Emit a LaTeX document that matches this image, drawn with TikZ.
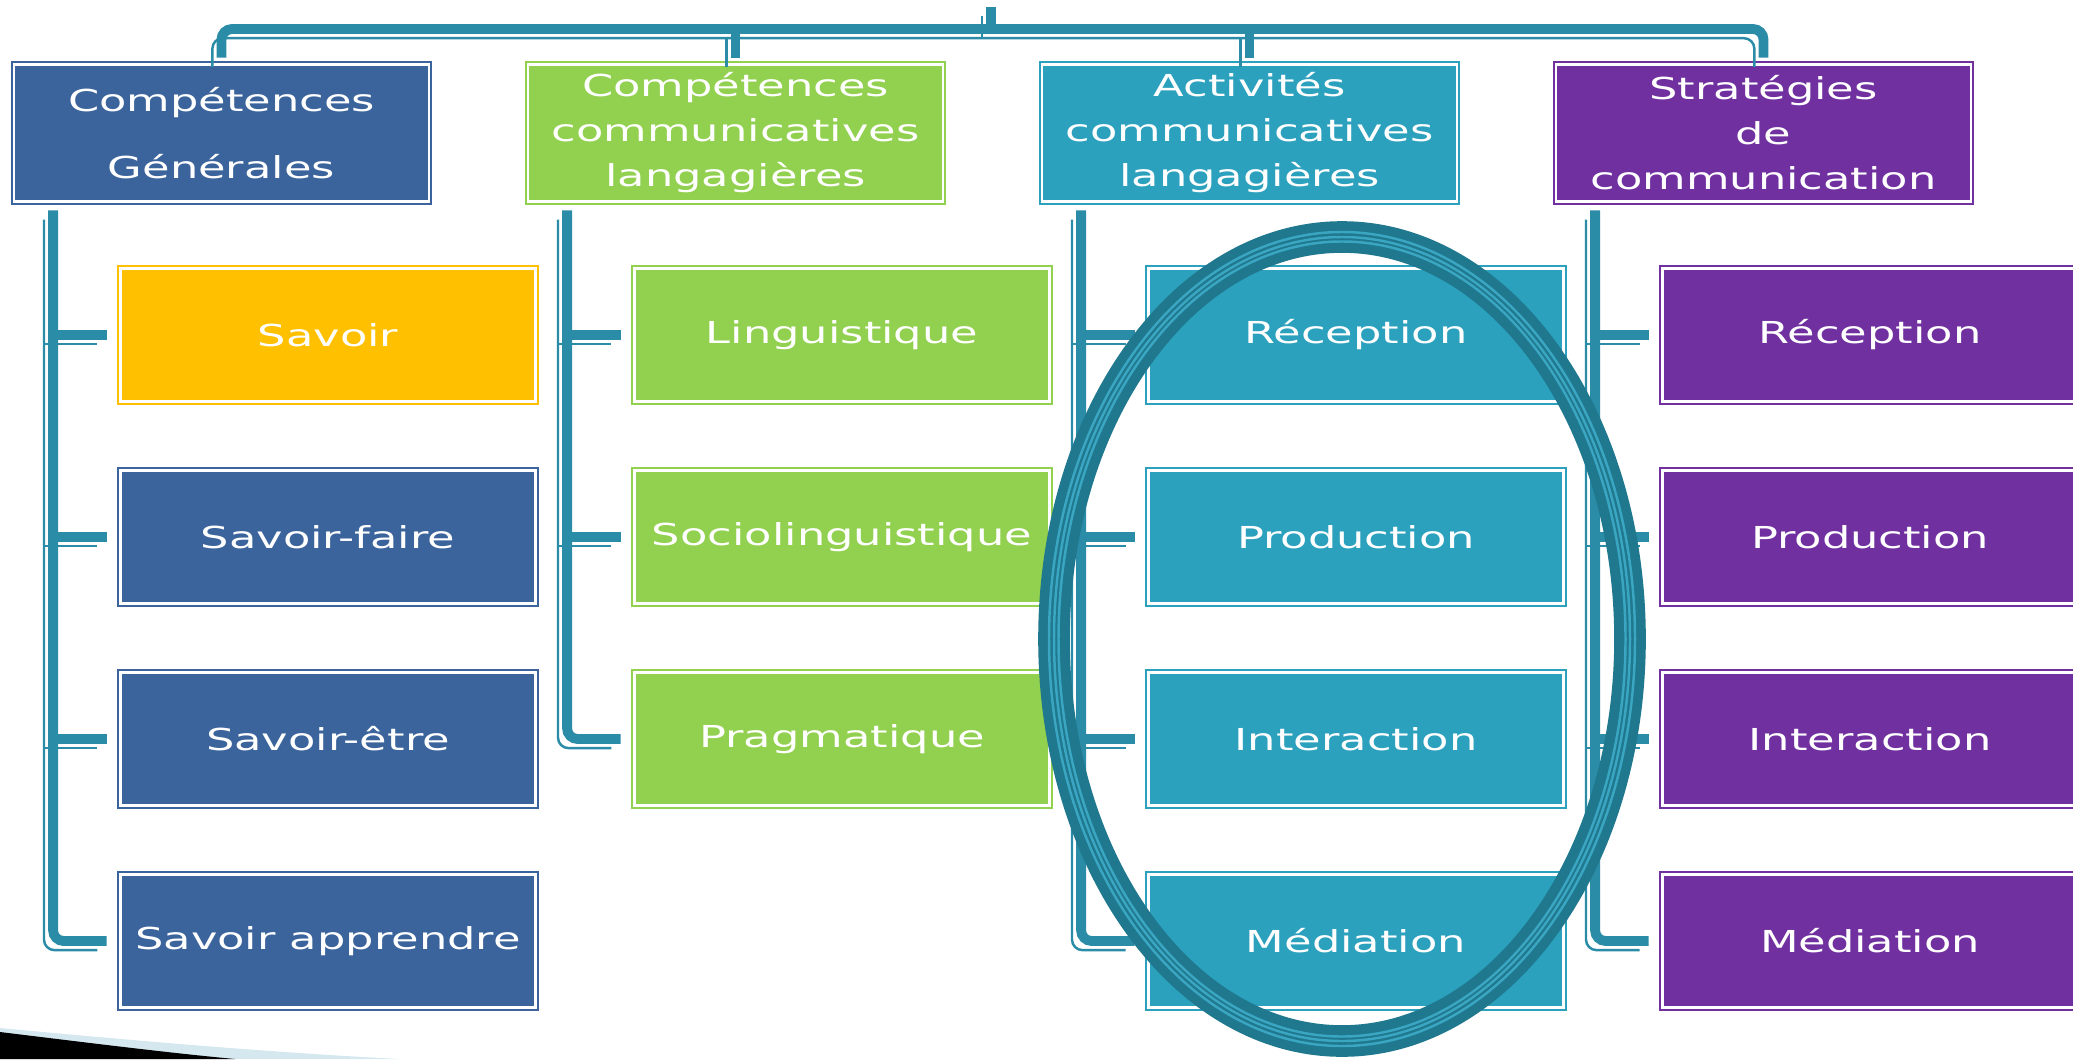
\documentclass[tikz,border=0pt]{standalone}
\usepackage{fontspec}
\setmainfont{DejaVu Sans}[FakeStretch=1.48]
\definecolor{bleu}{HTML}{3B649C}
\definecolor{jaune}{HTML}{FFC000}
\definecolor{vert}{HTML}{92D050}
\definecolor{turquoise}{HTML}{2CA1BE}
\definecolor{violet}{HTML}{7030A0}
\definecolor{couleurlien}{HTML}{2A8CA6}
\definecolor{cercle}{HTML}{1F788E}
\definecolor{cerclepale}{HTML}{3AA6C2}
\definecolor{bleupale}{HTML}{D5E8F0}

\begin{document}
\begin{tikzpicture}[
        boite/.style = {draw=#1, fill=#1, double=white, double distance=0.8pt, line width=0.5pt,
            text=white, minimum width=4.15cm, minimum height=1.33cm, inner sep=0pt, align=center,
            font=\fontsize{8.6}{12.8}\selectfont},
        titre/.style = {boite=#1, minimum height=1.37cm},
        lien/.style = {draw=couleurlien, line width=2.8pt, rounded corners=3pt,
            postaction={draw=couleurlien, line width=0.7pt, transform canvas={xshift=-2.6pt, yshift=-2.6pt}}}
    ]
        \useasboundingbox (0, 0) rectangle (20.73, -10.59);

        % titres
        \node [titre=bleu] (cg) at (2.215, -1.33) {Compétences\\[6.2pt]Générales};
        \node [titre=vert] (ccl) at (7.355, -1.33) {Compétences\\communicatives\\langagières};
        \node [titre=turquoise] (acl) at (12.495, -1.33) {Activités\\communicatives\\langagières};
        \node [titre=violet] (sc) at (17.635, -1.33) {Stratégies\\de\\communication};

        % colonne 1
        \node [boite=jaune] (sav) at (3.28, -3.35) {Savoir};
        \node [boite=bleu] (savf) at (3.28, -5.37) {Savoir-faire};
        \node [boite=bleu] (save) at (3.28, -7.39) {Savoir-être};
        \node [boite=bleu] (sava) at (3.28, -9.41) {Savoir apprendre};

        % colonne 2
        \node [boite=vert] (ling) at (8.42, -3.35) {Linguistique};
        \node [boite=vert] (socio) at (8.42, -5.37) {Sociolinguistique};
        \node [boite=vert] (prag) at (8.42, -7.39) {Pragmatique};

        % colonne 3
        \node [boite=turquoise] (rec) at (13.56, -3.35) {Réception};
        \node [boite=turquoise] (prod) at (13.56, -5.37) {Production};
        \node [boite=turquoise] (inter) at (13.56, -7.39) {Interaction};
        \node [boite=turquoise] (med) at (13.56, -9.41) {Médiation};

        % colonne 4
        \node [boite=violet] (srec) at (18.70, -3.35) {Réception};
        \node [boite=violet] (sprod) at (18.70, -5.37) {Production};
        \node [boite=violet] (sinter) at (18.70, -7.39) {Interaction};
        \node [boite=violet] (smed) at (18.70, -9.41) {Médiation};

        % barre du haut
        \coordinate (racine) at (9.91, -0.07);
        \coordinate (barre) at (9.91, -0.29);
        \draw [lien] (racine) -- (barre);
        \draw [lien] ([yshift=0.06cm]cg.north) |- (barre) -| ([yshift=0.06cm]sc.north);
        \draw [lien] ([yshift=0.06cm]ccl.north) -- (ccl.north |- barre);
        \draw [lien] ([yshift=0.06cm]acl.north) -- (acl.north |- barre);

        % branches
        \coordinate (b1) at ([xshift=0.4cm, yshift=-0.08cm]cg.south west);
        \coordinate (b2) at ([xshift=0.4cm, yshift=-0.08cm]ccl.south west);
        \coordinate (b3) at ([xshift=0.4cm, yshift=-0.08cm]acl.south west);
        \coordinate (b4) at ([xshift=0.4cm, yshift=-0.08cm]sc.south west);

        \draw [lien] (b1) |- ([xshift=-0.13cm]sava.west);
        \draw [lien] (b1 |- sav.west) -- ([xshift=-0.13cm]sav.west);
        \draw [lien] (b1 |- savf.west) -- ([xshift=-0.13cm]savf.west);
        \draw [lien] (b1 |- save.west) -- ([xshift=-0.13cm]save.west);

        \draw [lien] (b2) |- ([xshift=-0.13cm]prag.west);
        \draw [lien] (b2 |- ling.west) -- ([xshift=-0.13cm]ling.west);
        \draw [lien] (b2 |- socio.west) -- ([xshift=-0.13cm]socio.west);

        \draw [lien] (b3) |- ([xshift=-0.13cm]med.west);
        \draw [lien] (b3 |- rec.west) -- ([xshift=-0.13cm]rec.west);
        \draw [lien] (b3 |- prod.west) -- ([xshift=-0.13cm]prod.west);
        \draw [lien] (b3 |- inter.west) -- ([xshift=-0.13cm]inter.west);

        \draw [lien] (b4) |- ([xshift=-0.13cm]smed.west);
        \draw [lien] (b4 |- srec.west) -- ([xshift=-0.13cm]srec.west);
        \draw [lien] (b4 |- sprod.west) -- ([xshift=-0.13cm]sprod.west);
        \draw [lien] (b4 |- sinter.west) -- ([xshift=-0.13cm]sinter.west);

        % ellipse autour des activites
        \draw [cercle, line width=9pt] (13.42, -6.39) ellipse [x radius=2.88, y radius=4.02];
        \draw [cerclepale, line width=0.7pt] (13.42, -6.39) ellipse [x radius=2.93, y radius=4.07];
        \draw [cerclepale, line width=0.7pt] (13.42, -6.39) ellipse [x radius=2.88, y radius=4.02];
        \draw [cerclepale, line width=0.7pt] (13.42, -6.39) ellipse [x radius=2.835, y radius=3.975];

        % coin en bas a gauche
        \fill [bleupale] (0, -10.28) .. controls (1.5, -10.42) and (2.8, -10.53) .. (4, -10.59) -- (0, -10.59) -- cycle;
        \fill [black] (0, -10.32) .. controls (0.9, -10.43) and (1.7, -10.53) .. (2.35, -10.59) -- (0, -10.59) -- cycle;
    \end{tikzpicture}
\end{document}
